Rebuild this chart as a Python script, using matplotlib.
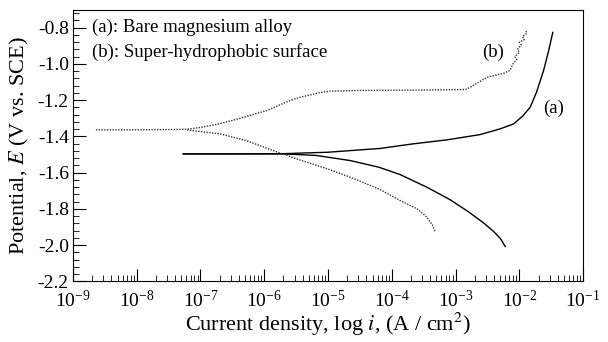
import numpy as np
import matplotlib
matplotlib.use("Agg")
import matplotlib.pyplot as plt
from matplotlib.ticker import LogLocator, MultipleLocator, NullFormatter

plt.rcParams['font.family'] = 'serif'
plt.rcParams['font.serif'] = ['Liberation Serif', 'DejaVu Serif']
plt.rcParams['mathtext.fontset'] = 'stix'
plt.rcParams['axes.unicode_minus'] = False

# (a) bare magnesium alloy, log10(i) and E
a_anodic_logi = [-7.27, -6.5, -5.7, -5.0, -4.65, -4.18, -3.67, -3.14, -2.62, -2.30,
                 -2.09, -1.94, -1.83, -1.73, -1.62, -1.54, -1.475]
a_anodic_E = [-1.496, -1.496, -1.495, -1.487, -1.478, -1.466, -1.441, -1.419, -1.390, -1.358,
              -1.331, -1.285, -1.239, -1.156, -1.037, -0.927, -0.826]
a_cath_logi = [-7.27, -5.7, -5.18, -4.65, -4.2, -3.87, -3.45, -3.09, -2.8, -2.56,
               -2.40, -2.30, -2.22]
a_cath_E = [-1.496, -1.496, -1.505, -1.533, -1.57, -1.610, -1.68, -1.748, -1.815, -1.877,
            -1.925, -1.962, -2.007]

# (b) super-hydrophobic surface
b_anodic_logi = [-8.64, -7.5, -7.21, -7.01, -6.7, -6.38, -5.96, -5.6, -5.44, -5.125,
                 -4.97, -4.5, -3.5, -2.85, -2.77, -2.51, -2.25, -2.145, -2.10,
                 -2.04, -2.07, -2.0, -2.03, -1.97, -2.0, -1.92, -1.95, -1.88, -1.9]
b_anodic_E = [-1.364, -1.362, -1.360, -1.351, -1.33, -1.30, -1.257, -1.202, -1.184, -1.158,
              -1.150, -1.146, -1.144, -1.141, -1.129, -1.074, -1.052, -1.035, -1.0,
              -0.975, -0.96, -0.935, -0.92, -0.895, -0.88, -0.865, -0.85, -0.83, -0.815]
b_cath_logi = [-7.21, -6.69, -6.28, -5.86, -5.44, -5.0, -4.65, -4.2, -3.87, -3.6,
               -3.45, -3.36, -3.32]
b_cath_E = [-1.364, -1.386, -1.423, -1.478, -1.53, -1.58, -1.625, -1.69, -1.753, -1.80,
            -1.845, -1.89, -1.928]

fig = plt.figure(figsize=(6.08, 3.42), dpi=100)
ax = fig.add_axes([0.120, 0.177, 0.839, 0.795])

ax.plot(10 ** np.array(a_anodic_logi), a_anodic_E, color='black', lw=1.0)
ax.plot(10 ** np.array(a_cath_logi), a_cath_E, color='black', lw=1.0)
ax.plot(10 ** np.array(b_anodic_logi), b_anodic_E, color='#333333', lw=1.0, ls=(0, (1, 1)))
ax.plot(10 ** np.array(b_cath_logi), b_cath_E, color='#333333', lw=1.0, ls=(0, (1, 1)))

ax.set_xscale('log')
ax.set_xlim(1e-9, 1e-1)
ax.set_ylim(-2.2, -0.7)
ax.xaxis.set_major_locator(LogLocator(base=10, numticks=20))
ax.xaxis.set_minor_locator(LogLocator(base=10, subs=np.arange(2, 10), numticks=100))
ax.xaxis.set_minor_formatter(NullFormatter())
ax.yaxis.set_minor_locator(MultipleLocator(0.04))
yt = np.arange(-2.2, -0.7, 0.2)
ax.set_yticks(yt)
ax.set_yticklabels(['%.1f' % v for v in yt])

ax.tick_params(which='both', direction='in', top=False, right=False, labelsize=14)
ax.tick_params(which='major', length=9)
ax.tick_params(which='minor', length=4)
ax.tick_params(axis='x', pad=6)
ax.tick_params(axis='y', pad=3)

ax.set_xlabel('Current density, log $i$, (A / cm$^2$)', fontsize=16, labelpad=0)
ax.set_ylabel('Potential, $E$ (V vs. SCE)', fontsize=16)
ax.yaxis.set_label_coords(-0.082, 0.5)

ax.text(2e-9, -0.8, '(a): Bare magnesium alloy', fontsize=13.5, va='center')
ax.text(2e-9, -0.935, '(b): Super-hydrophobic surface', fontsize=13.5, va='center')
ax.text(2.6e-3, -0.935, '(b)', fontsize=13.5, va='center')
ax.text(2.35e-2, -1.245, '(a)', fontsize=13.5, va='center')

fig.savefig('out.png', dpi=100)
